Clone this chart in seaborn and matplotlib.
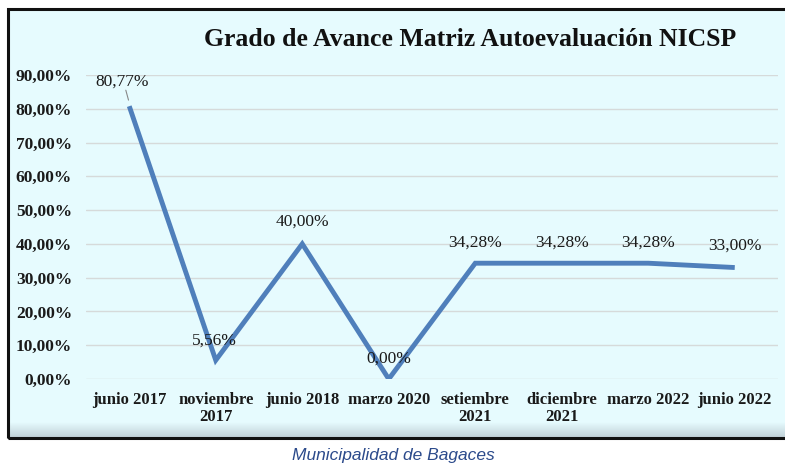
import numpy as np
import pandas as pd
import seaborn as sns
import matplotlib.pyplot as plt
from matplotlib.patches import Rectangle

periodos = ['junio 2017', 'noviembre\n2017', 'junio 2018', 'marzo 2020',
            'setiembre\n2021', 'diciembre\n2021', 'marzo 2022', 'junio 2022']
avance = [80.77, 5.56, 40.00, 0.00, 34.28, 34.28, 34.28, 33.00]
etiquetas = ['80,77%', '5,56%', '40,00%', '0,00%', '34,28%', '34,28%', '34,28%', '33,00%']
yticks = [0, 10, 20, 30, 40, 50, 60, 70, 80, 90]

df = pd.DataFrame({'periodo': periodos, 'avance': avance})

sns.set_style('white')
plt.rcParams['font.family'] = ['Liberation Serif', 'DejaVu Serif']

fig = plt.figure(figsize=(7.85, 4.65), dpi=100)
fig.patch.set_facecolor('white')

# chart frame with light cyan fill
fig.patches.append(Rectangle((8 / 785, 1 - 438 / 465), 1.0, (438 - 9) / 465,
                             transform=fig.transFigure, facecolor='#e6fbfe',
                             edgecolor='none', zorder=-5))

# soft bevel along the bottom edge of the frame
bev = fig.add_axes([8 / 785, 1 - 438 / 465, 1 - 8 / 785, 16 / 465], zorder=-4)
grad = np.linspace(0, 1, 50).reshape(-1, 1)
bev.imshow(grad, aspect='auto', cmap=sns.blend_palette(['#e6fbfe', '#bfcfd6'], as_cmap=True),
           extent=[0, 1, 0, 1], origin='upper')
bev.axis('off')
fig.patches.append(Rectangle((8 / 785, 1 - 438 / 465), 1.0, (438 - 9) / 465,
                             transform=fig.transFigure, facecolor='none',
                             edgecolor='#111111', lw=2.2, zorder=5))

ax = fig.add_axes([86 / 785, 1 - 379 / 465, (778 - 86) / 785, (379 - 75) / 465])
ax.set_facecolor('none')
ax.set_zorder(2)

x = np.arange(len(periodos))
sns.lineplot(x=x, y=df['avance'], ax=ax, color='#4f7fbb', lw=3.5,
             solid_joinstyle='miter', solid_capstyle='butt')

ax.set_xlim(-0.5, len(periodos) - 0.5)
ax.set_ylim(0, 90)
ax.set_yticks(yticks)
ax.set_yticklabels([f'{v},00%' for v in yticks], fontweight='bold', fontsize=12.5,
                   color='#1a1a1a')
ax.set_xticks(x)
ax.set_xticklabels(periodos, fontweight='bold', fontsize=12, color='#1a1a1a',
                   linespacing=1.15)
ax.tick_params(axis='y', length=0, pad=10)
ax.tick_params(axis='x', length=0, pad=9)
ax.yaxis.grid(True, color='#d6dada', lw=1)
ax.set_axisbelow(True)
for s in ax.spines.values():
    s.set_visible(False)
ax.set_xlabel('')
ax.set_ylabel('')

offsets = [(-5, 18), (-1, 14), (0, 16), (0, 15), (0, 15), (0, 15), (0, 15), (0, 16)]
for i, (v, lab) in enumerate(zip(avance, etiquetas)):
    ax.annotate(lab, (i, v), xytext=offsets[i], textcoords='offset points',
                ha='center', va='center', fontsize=12.5, color='#1a1a1a')
# leader line for first label
ax.annotate('', (0, avance[0] + 1), xytext=(-3, 11), textcoords='offset points',
            arrowprops=dict(arrowstyle='-', color='#888888', lw=0.8))

fig.text(470 / 785, 1 - 40 / 465, 'Grado de Avance Matriz Autoevaluación NICSP',
         ha='center', va='center', fontsize=18.5, fontweight='bold', color='#111111')

fig.text(393 / 785, 1 - 455 / 465, 'Municipalidad de Bagaces',
         ha='center', va='center', fontsize=12.5, style='italic', color='#2b4a8b',
         family=['Liberation Sans Narrow', 'Liberation Sans', 'DejaVu Sans'])

fig.savefig('out.png', dpi=100)
